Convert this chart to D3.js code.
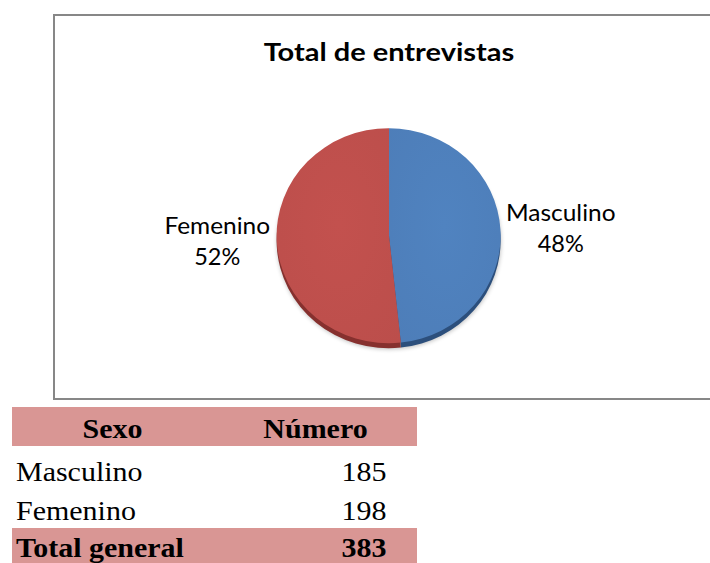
<!DOCTYPE html>
<html>
<head>
<meta charset="utf-8">
<script src="https://cdnjs.cloudflare.com/ajax/libs/d3/7.8.5/d3.min.js"></script>
<style>
  body { margin: 0; background: #fff; }
  svg { display: block; }
</style>
</head>
<body>
<script>
"use strict";

// data
var chartTitle = "Total de entrevistas";
var categories = ["Masculino", "Femenino"];
var counts = [185, 198];
var tableHeader = ["Sexo", "Número"];
var totalLabel = "Total general";

// vars
var width = 710;
var height = 563;
var cx = 389;
var cy = 235.7;
var rx = 112;
var ry = 107.5;
var depth = 5;

var chartFont = "Lato, 'Open Sans', sans-serif";
var tableFont = "'Liberation Serif', 'Times New Roman', serif";

var color = d3.scaleOrdinal().domain(categories).range(["#4f81bd", "#c0504d"]);
var sideColor = d3.scaleOrdinal().domain(categories).range(["#2c4f7c", "#86302e"]);

var rows = categories.map((c, i) => ({name: c, value: counts[i]}));
var total = d3.sum(counts);

// the picture is a bit wider than the fonts, so stretch text sideways
function stretch(sel, k) {
    sel.each(function () {
        var w = this.getComputedTextLength();
        d3.select(this)
            .attr("textLength", w * k)
            .attr("lengthAdjust", "spacingAndGlyphs");
    });
}

var svg = d3.select("body").append("svg")
    .attr("width", width)
    .attr("height", height);

// chart frame
svg.append("rect")
    .attr("x", 54).attr("y", 15)
    .attr("width", 720).attr("height", 384)
    .attr("fill", "#fff")
    .attr("stroke", "#878787")
    .attr("stroke-width", 2);

svg.append("text")
    .attr("x", cx).attr("y", 60.7)
    .attr("text-anchor", "middle")
    .style("font", "bold 25px " + chartFont)
    .attr("fill", "#000")
    .text(chartTitle)
    .call(stretch, 1.16);

var defs = svg.append("defs");
categories.forEach(function (c, i) {
    var base = d3.color(color(c));
    var g = defs.append("radialGradient")
        .attr("id", "face" + i)
        .attr("cx", "0.5").attr("cy", "0.45").attr("r", "0.75");
    g.append("stop").attr("offset", "0%").attr("stop-color", base.brighter(0.05));
    g.append("stop").attr("offset", "100%").attr("stop-color", base.darker(0.08));
});
var blur = defs.append("filter").attr("id", "shadow")
    .attr("x", "-20%").attr("y", "-20%").attr("width", "140%").attr("height", "140%");
blur.append("feGaussianBlur").attr("stdDeviation", 2);

var pie = d3.pie().sort(null).value(d => d.value);
var arc = d3.arc().innerRadius(0).outerRadius(1);
var arcs = pie(rows);

// soft shadow under the pie
svg.append("ellipse")
    .attr("cx", cx).attr("cy", cy + depth + 1)
    .attr("rx", rx).attr("ry", ry)
    .attr("fill", "#000")
    .attr("opacity", 0.25)
    .attr("filter", "url(#shadow)");

// the side of the 3d pie, one copy moved down
svg.append("g")
    .attr("transform", `translate(${cx},${cy + depth}) scale(${rx},${ry})`)
  .selectAll("path")
  .data(arcs)
  .join("path")
    .attr("d", arc)
    .attr("fill", d => sideColor(d.data.name));

// top face
svg.append("g")
    .attr("transform", `translate(${cx},${cy}) scale(${rx},${ry})`)
  .selectAll("path")
  .data(arcs)
  .join("path")
    .attr("d", arc)
    .attr("fill", (d, i) => "url(#face" + i + ")");

// labels outside, name then percent
var labels = svg.append("g")
    .style("font", "23.5px " + chartFont)
    .attr("text-anchor", "middle")
    .attr("fill", "#000")
  .selectAll("g")
  .data(arcs)
  .join("g")
    .attr("transform", function (d) {
        var mid = (d.startAngle + d.endAngle) / 2;
        var x = cx + 172 * Math.sin(mid);
        var y = cy - 1.7 - 125 * Math.cos(mid);
        return `translate(${x},${y})`;
    });

labels.append("text").attr("y", -6.7).text(d => d.data.name).call(stretch, 1.04);
labels.append("text").attr("y", 24.3)
    .text(d => Math.round(d.value / total * 100) + "%");

// table below the chart
var tableLeft = 12;
var tableRight = 417;
var col1 = 16;
var col2 = 386.5;
var headCenters = [112.5, 315.5];

svg.append("rect")
    .attr("x", tableLeft).attr("y", 407)
    .attr("width", tableRight - tableLeft).attr("height", 39)
    .attr("fill", "#d99694");
svg.append("rect")
    .attr("x", tableLeft).attr("y", 528)
    .attr("width", tableRight - tableLeft).attr("height", 40)
    .attr("fill", "#d99694");

var table = svg.append("g").style("font-family", tableFont).style("font-size", "27px");

table.selectAll("text.head")
  .data(tableHeader)
  .join("text")
    .attr("class", "head")
    .attr("x", (d, i) => headCenters[i])
    .attr("y", 438)
    .attr("text-anchor", "middle")
    .attr("font-weight", "bold")
    .text(d => d);

var rowY = d3.scaleLinear().domain([0, 1]).range([481, 520]);

var bodyRows = table.selectAll("g.row")
  .data(rows)
  .join("g")
    .attr("class", "row")
    .attr("transform", (d, i) => `translate(0,${rowY(i)})`);
bodyRows.append("text").attr("x", col1).text(d => d.name);
bodyRows.append("text").attr("x", col2).attr("text-anchor", "end").text(d => d.value);

var totalRow = table.append("g")
    .attr("transform", "translate(0,557)")
    .attr("font-weight", "bold");
totalRow.append("text").attr("x", col1).text(totalLabel);
totalRow.append("text").attr("x", col2).attr("text-anchor", "end").text(total);

table.selectAll("text").call(stretch, 1.11);
</script>
</body>
</html>
